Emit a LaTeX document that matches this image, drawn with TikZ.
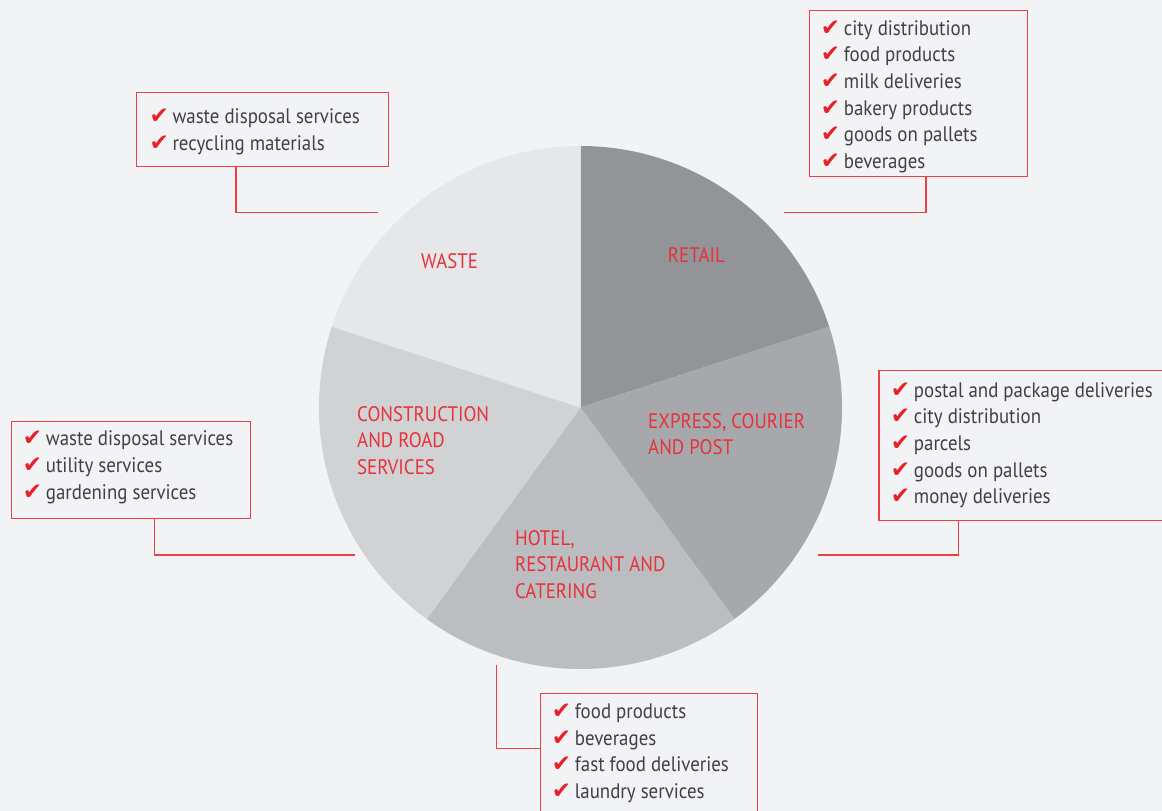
\documentclass[tikz,border=0pt]{standalone}
\usepackage{fontspec}
\setmainfont{PT Sans}[FakeStretch=0.9]
\newfontfamily\chkfont{DejaVu Sans}
\usetikzlibrary{calc}
\definecolor{bg}{HTML}{F2F3F5}
\definecolor{cretail}{HTML}{939497}
\definecolor{cexpress}{HTML}{A7A8AB}
\definecolor{chotel}{HTML}{BCBDC0}
\definecolor{cconstr}{HTML}{D1D2D4}
\definecolor{cwaste}{HTML}{E6E7E9}
\definecolor{lblred}{HTML}{E8313A}
\definecolor{chkred}{HTML}{E8202A}
\definecolor{boxred}{HTML}{EC4048}
\definecolor{txt}{HTML}{414042}
\newcommand\ck{\makebox[23pt][l]{\smash{\color{chkred}\chkfont\fontsize{23}{23}\selectfont ✔}}}
\begin{document}
\begin{tikzpicture}[x=1pt,y=1pt,
  box/.style={draw=boxred,line width=1.2pt,anchor=north west,inner sep=0pt},
  conn/.style={draw=boxred,line width=1.2pt},
  lbl/.style={text=lblred,anchor=north west,inner sep=0pt,align=left,font=\fontsize{21}{26.5}\selectfont},
  lst/.style={text=txt,anchor=north west,inner sep=0pt,align=left,font=\fontsize{21}{26.7}\selectfont}]
\useasboundingbox (0,0) rectangle (1162,811);
\fill[bg] (0,0) rectangle (1162,811);
\coordinate (c) at (580.5,403.5);
\fill[cretail] (c) -- ++(90:261.5pt) arc[start angle=90,end angle=18,radius=261.5pt] -- cycle;
\fill[cexpress] (c) -- ++(18:261.5pt) arc[start angle=18,end angle=-54,radius=261.5pt] -- cycle;
\fill[chotel] (c) -- ++(-54:261.5pt) arc[start angle=-54,end angle=-126,radius=261.5pt] -- cycle;
\fill[cconstr] (c) -- ++(-126:261.5pt) arc[start angle=-126,end angle=-198,radius=261.5pt] -- cycle;
\fill[cwaste] (c) -- ++(162:261.5pt) arc[start angle=162,end angle=90,radius=261.5pt] -- cycle;

% slice labels
\node[lbl] (lwaste) at (421,557.7) {WASTE};
\node[lbl] (lretail) at (667.7,563.7) {RETAIL};
\node[lbl] (lexpress) at (648,397.7) {EXPRESS, COURIER\\AND POST};
\node[lbl] (lconstr) at (357,405) {CONSTRUCTION\\AND ROAD\\SERVICES};
\node[lbl] (lhotel) at (515,281) {HOTEL,\\RESTAURANT AND\\CATERING};

% boxes
\node[box,minimum width=218pt,minimum height=166pt] (rbox) at (809,801) {};
\node[box,minimum width=322pt,minimum height=150pt] (ebox) at (878.3,441) {};
\node[box,minimum width=239.3pt,minimum height=97.6pt] (cbox) at (10.7,390.3) {};
\node[box,minimum width=252pt,minimum height=73.4pt] (wbox) at (135.7,718.7) {};
\node[box,minimum width=217pt,minimum height=170pt] (hbox) at (540,118.3) {};

% lists
\node[lst] (rlist) at (820.7,791) {\ck city distribution\\\ck food products\\\ck milk deliveries\\\ck bakery products\\\ck goods on pallets\\\ck beverages};
\node[lst] (elist) at (890.7,429) {\ck postal and package deliveries\\\ck city distribution\\\ck parcels\\\ck goods on pallets\\\ck money deliveries};
\node[lst] (clist) at (22.7,380.3) {\ck waste disposal services\\\ck utility services\\\ck gardening services};
\node[lst] (wlist) at (149.3,702.7) {\ck waste disposal services\\\ck recycling materials};
\node[lst] (hlist) at (551.7,107.7) {\ck food products\\\ck beverages\\\ck fast food deliveries\\\ck laundry services};

% connectors
\coordinate (rend) at (784,598.3);
\coordinate (eend) at (818,256);
\coordinate (cend) at (355,256);
\coordinate (wend) at (378.3,598.3);
\coordinate (hstart) at (496.7,146.3);
\draw[conn] ($(rbox.south west)+(117,0)$) |- (rend);
\draw[conn] ($(ebox.south west)+(80,0)$) |- (eend);
\draw[conn] ($(cbox.south west)+(143.6,0)$) |- (cend);
\draw[conn] ($(wbox.south west)+(100.3,0)$) |- (wend);
\draw[conn] (hstart) |- ($(hbox.north west)+(0,-55.6)$);
\end{tikzpicture}
\end{document}
